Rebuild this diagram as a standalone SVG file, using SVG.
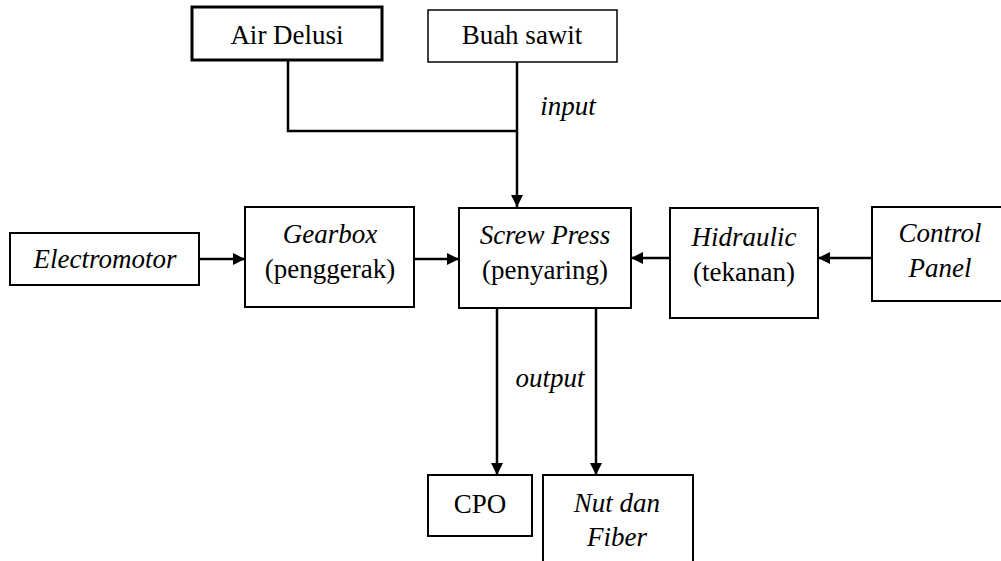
<svg xmlns="http://www.w3.org/2000/svg" width="1001" height="561" viewBox="0 0 1001 561">
<style>
.box{fill:#fff;stroke:#000;stroke-width:2}
.t{font-family:'Liberation Serif','Times New Roman','DejaVu Serif',serif;font-size:27px;fill:#000;text-anchor:middle}
.i{font-style:italic}
.c{fill:none;stroke:#000;stroke-width:2.5}
</style>
<defs>
<marker id="ah" viewBox="0 0 12 12" refX="12" refY="6" markerWidth="12" markerHeight="12" markerUnits="userSpaceOnUse" orient="auto">
<path d="M0,0 L12,6 L0,12 Z" fill="#000"/>
</marker>
</defs>
<rect width="1001" height="561" fill="#fff"/>
<g id="connectors">
<polyline class="c" points="288,60 288,131 518,131"/>
<line class="c" x1="517" y1="62" x2="517" y2="207" marker-end="url(#ah)"/>
<line class="c" x1="199" y1="259" x2="245" y2="259" marker-end="url(#ah)"/>
<line class="c" x1="414" y1="259" x2="459" y2="259" marker-end="url(#ah)"/>
<line class="c" x1="670" y1="258" x2="631" y2="258" marker-end="url(#ah)"/>
<line class="c" x1="872" y1="258" x2="818" y2="258" marker-end="url(#ah)"/>
<line class="c" x1="497" y1="308" x2="497" y2="475" marker-end="url(#ah)"/>
<line class="c" x1="596" y1="308" x2="596" y2="475" marker-end="url(#ah)"/>
<text class="t i" x="568" y="115" font-family="Liberation Serif, serif">input</text>
<text class="t i" x="550" y="387" font-family="Liberation Serif, serif">output</text>
</g>
<g id="air-delusi"><rect class="box" x="192" y="7" width="190" height="53" style="stroke-width:3"/><text class="t" x="287" y="44">Air Delusi</text></g>
<g id="buah-sawit"><rect class="box" x="428" y="10" width="189" height="52" style="stroke-width:1.5"/><text class="t" x="522" y="44">Buah sawit</text></g>
<g id="electromotor"><rect class="box" x="10" y="233" width="189" height="52"/><text class="t i" x="105" y="268">Electromotor</text></g>
<g id="gearbox"><rect class="box" x="245" y="207" width="169" height="100"/><text class="t i" x="330" y="243">Gearbox</text><text class="t" x="330" y="278">(penggerak)</text></g>
<g id="screw-press"><rect class="box" x="459" y="208" width="172" height="100"/><text class="t i" x="545" y="244">Screw Press</text><text class="t" x="545" y="279">(penyaring)</text></g>
<g id="hidraulic"><rect class="box" x="670" y="208" width="148" height="110"/><text class="t i" x="744" y="246">Hidraulic</text><text class="t" x="744" y="281">(tekanan)</text></g>
<g id="control-panel"><rect class="box" x="872" y="207" width="140" height="94"/><text class="t i" x="940" y="242">Control</text><text class="t i" x="940" y="277">Panel</text></g>
<g id="cpo"><rect class="box" x="428" y="475" width="104" height="61"/><text class="t" x="480" y="513">CPO</text></g>
<g id="nut-fiber"><rect class="box" x="543" y="475" width="150" height="100"/><text class="t i" x="617" y="512">Nut dan</text><text class="t i" x="617" y="546">Fiber</text></g>
</svg>
